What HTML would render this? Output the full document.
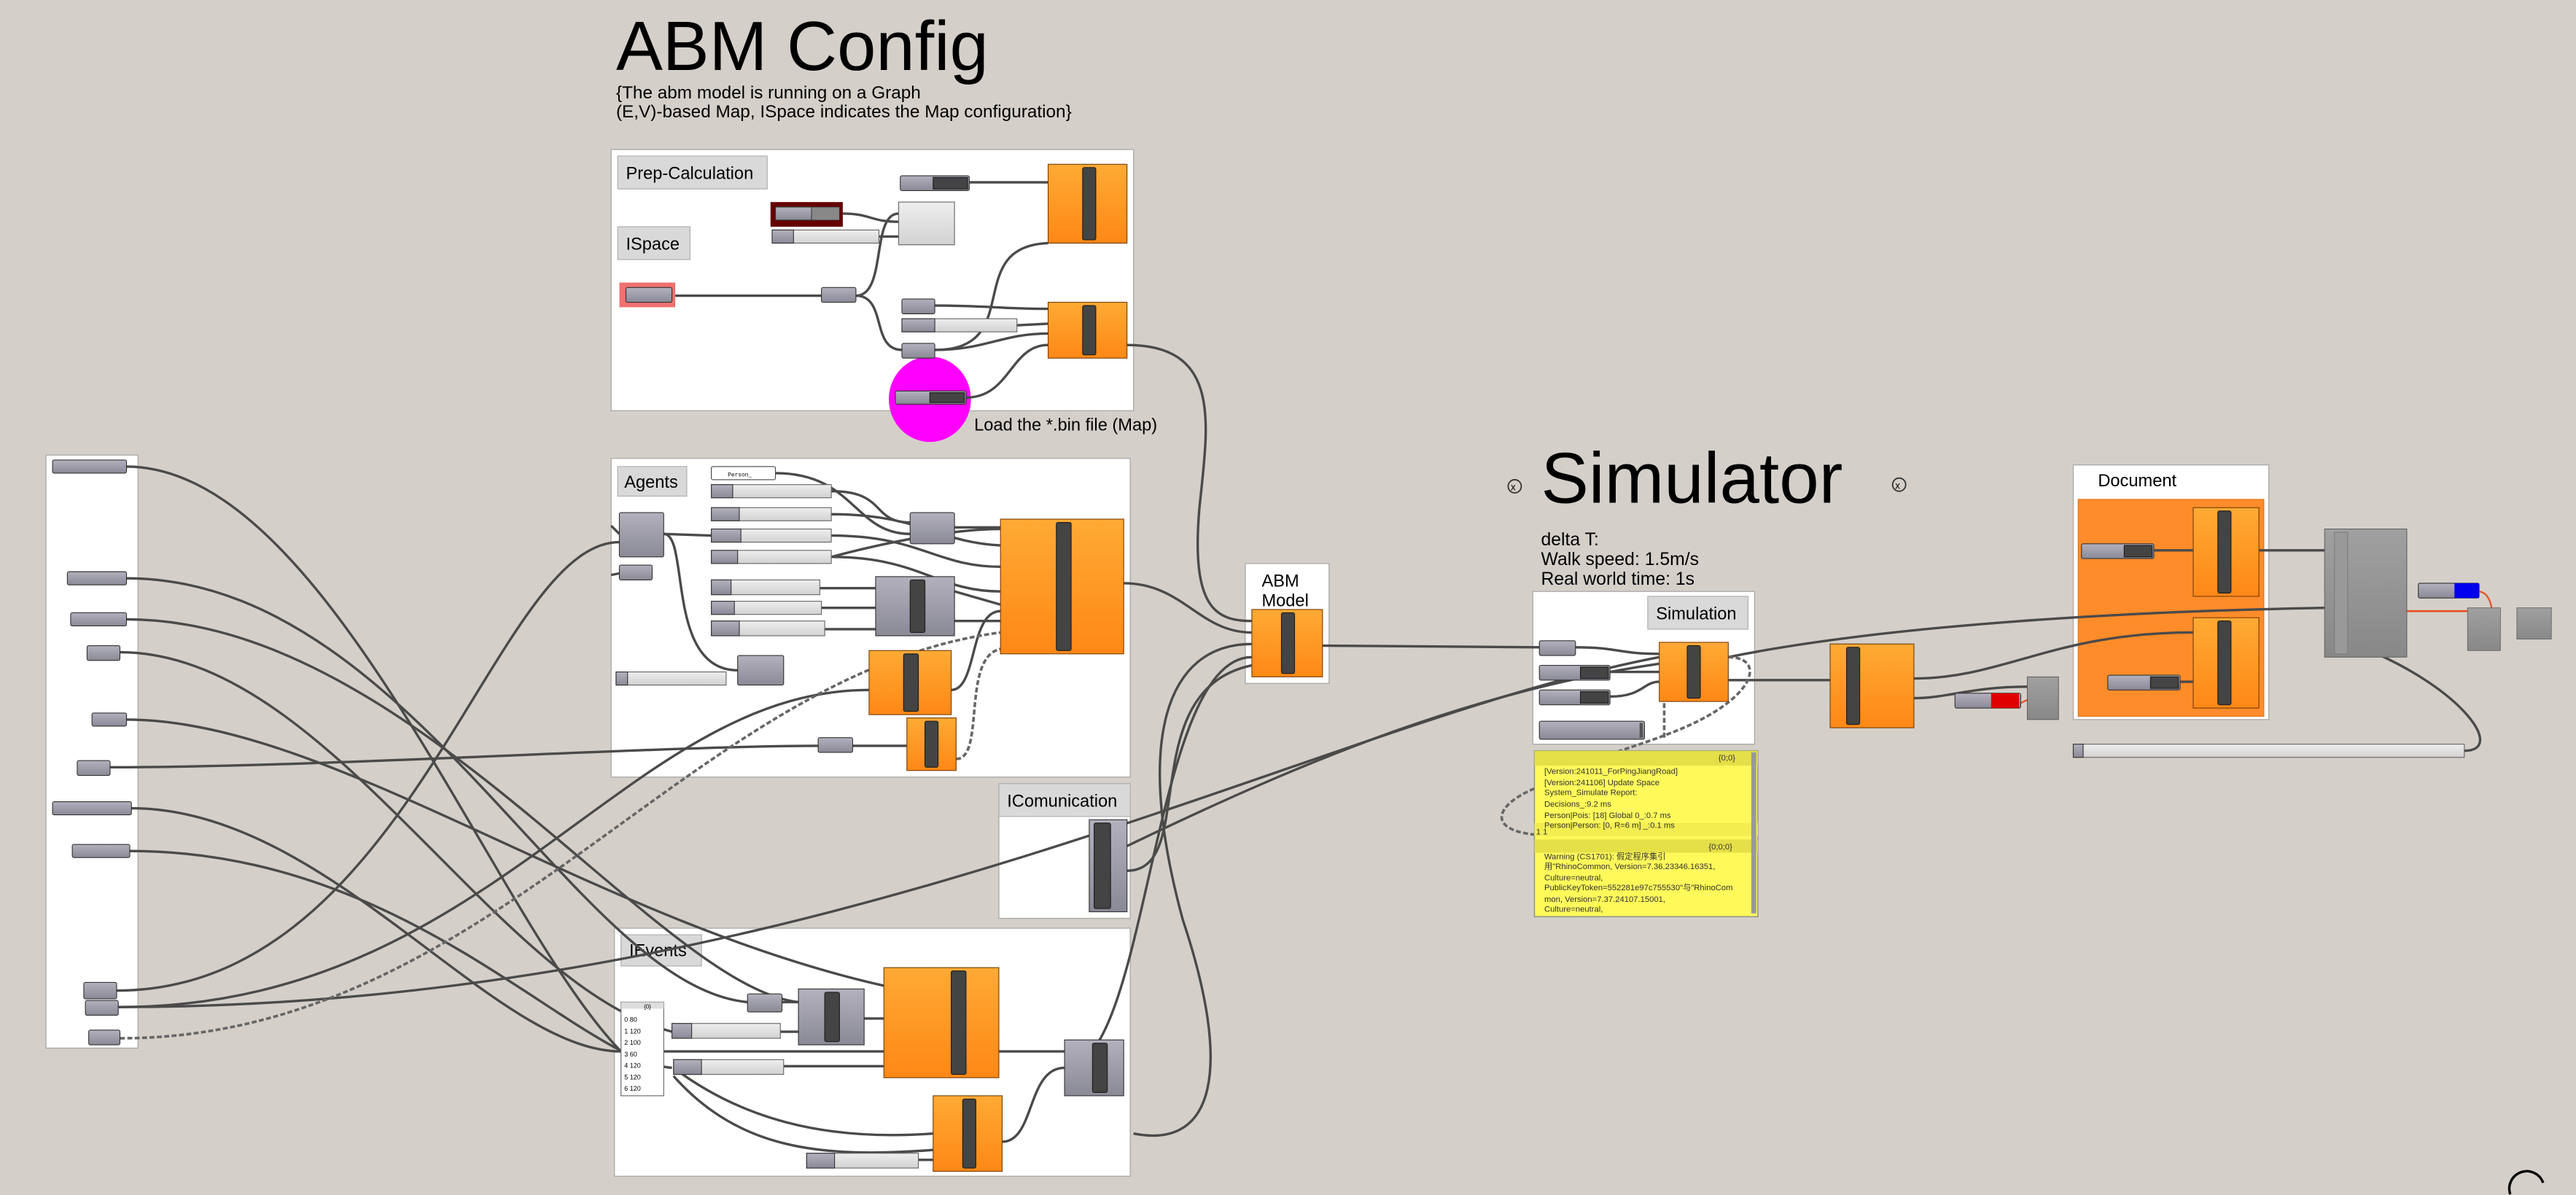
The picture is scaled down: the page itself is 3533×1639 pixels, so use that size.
<!DOCTYPE html>
<html><head><meta charset="utf-8"><style>
html,body{margin:0;padding:0;background:#d4d0c9;}
svg{display:block}
text{font-family:"Liberation Sans","Noto Sans CJK SC",sans-serif;}
.m{font-family:"Liberation Mono","Noto Sans CJK SC",monospace;}
.w{fill:none;stroke:#4a4a4a;stroke-width:1.5}
.d{fill:none;stroke:#666;stroke-width:1.6;stroke-dasharray:3 1.5}
.pn{fill:#fff;stroke:#aaa;stroke-width:0.6}
.lb{fill:#d9d9d9;stroke:#b5b5b5;stroke-width:0.6}
.g{fill:url(#gg);stroke:#333;stroke-width:0.5}
.o{fill:url(#og);stroke:#7a3e08;stroke-width:0.5}
.bar{fill:#444;stroke:#1c1c1c;stroke-width:0.5}
.lt{fill:url(#lg);stroke:#666;stroke-width:0.5}
</style></head><body>
<svg width="3533" height="1639" viewBox="0 0 1568 727.4" xmlns="http://www.w3.org/2000/svg">
<defs>
<linearGradient id="gg" x1="0" y1="0" x2="0" y2="1"><stop offset="0" stop-color="#b2b1bd"/><stop offset="1" stop-color="#8a8996"/></linearGradient>
<linearGradient id="og" x1="0" y1="0" x2="0" y2="1"><stop offset="0" stop-color="#ffaa35"/><stop offset="1" stop-color="#ff8816"/></linearGradient>
<linearGradient id="lg" x1="0" y1="0" x2="0" y2="1"><stop offset="0" stop-color="#eeeeee"/><stop offset="1" stop-color="#d2d2d2"/></linearGradient>
<linearGradient id="gr" x1="0" y1="0" x2="0" y2="1"><stop offset="0" stop-color="#a0a0a0"/><stop offset="1" stop-color="#888"/></linearGradient>
</defs>
<rect width="1568" height="727.4" fill="#d4d0c9"/>

<!-- titles -->
<text x="375" y="42.5" font-size="42.5">ABM Config</text>
<text x="375" y="60" font-size="10.8">{The abm model is running on a Graph</text>
<text x="375" y="71.5" font-size="10.8">(E,V)-based Map, ISpace indicates the Map configuration}</text>
<text x="938" y="306" font-size="43.5">Simulator</text>
<circle cx="922" cy="296" r="4" fill="none" stroke="#333" stroke-width="0.8"/><text x="919.6" y="298.5" font-size="6">x</text>
<circle cx="1156" cy="295" r="4" fill="none" stroke="#333" stroke-width="0.8"/><text x="1153.6" y="297.5" font-size="6">x</text>
<text x="938" y="332" font-size="11">delta T:</text>
<text x="938" y="344" font-size="11">Walk speed: 1.5m/s</text>
<text x="938" y="356" font-size="11">Real world time: 1s</text>

<!-- panels -->
<rect class="pn" x="372" y="91" width="318" height="159"/>
<rect class="lb" x="376" y="95" width="91" height="20"/><text x="381" y="109" font-size="10.5">Prep-Calculation</text>
<rect class="lb" x="376" y="138" width="44" height="20"/><text x="381" y="152" font-size="10.5">ISpace</text>
<rect class="pn" x="372" y="279" width="316" height="194"/>
<rect class="lb" x="376" y="284" width="42" height="18"/><text x="380" y="297" font-size="10.5">Agents</text>
<rect class="pn" x="758" y="343" width="51" height="73"/>
<text x="768" y="357" font-size="10.5">ABM</text><text x="768" y="369" font-size="10.5">Model</text>
<rect class="pn" x="608" y="477" width="80" height="82"/>
<rect class="lb" x="608" y="477" width="80" height="20"/><text x="613" y="491" font-size="10.5">IComunication</text>
<rect class="pn" x="374" y="565" width="314" height="151"/>
<rect class="lb" x="378" y="569" width="49" height="19"/><text x="383" y="582" font-size="10.5">IEvents</text>
<rect class="pn" x="28" y="277" width="56" height="361"/>
<rect class="pn" x="933" y="360" width="135" height="93"/>
<rect class="lb" x="1003" y="363" width="61" height="20"/><text x="1008" y="377" font-size="10.5">Simulation</text>
<rect class="pn" x="1262" y="283" width="119" height="155"/>
<text x="1277" y="296" font-size="10.5">Document</text>
<rect x="1265" y="304" width="113" height="132" fill="#ff8c2a" stroke="#e07010" stroke-width="0.5"/>

<!-- magenta -->
<ellipse cx="566" cy="243" rx="25" ry="26" fill="#ff00ff"/>
<text x="593" y="262" font-size="10.5">Load the *.bin file (Map)</text>

<!-- wires -->
<g class="w">
<path d="M411 180 L500 180"/>
<path d="M521 180 C540 180 530 130 547 130"/>
<path d="M521 180 C540 180 530 213 549 213"/>
<path d="M513 130 C530 130 530 135 547 135"/>
<path d="M535 144 L547 144"/>
<path d="M590 111 L638 111"/>
<path d="M569 186 C600 186 610 188 638 188"/>
<path d="M619 198 L638 197"/>
<path d="M569 213 C600 213 610 203 638 203"/>
<path d="M569 213 C625 213 585 150 638 148"/>
<path d="M588 242 C615 242 615 210 638 210"/>
<path d="M686 210 C745 210 735 260 730 310 C725 370 740 378 762 378"/>
<path d="M472 288 C520 288 520 325 554 325"/>
<path d="M506 299 C540 299 530 318 554 318"/>
<path d="M506 313 C560 313 570 330 609 332"/>
<path d="M506 326 C560 326 570 345 609 345"/>
<path d="M506 339 C560 339 570 360 609 360"/>
<path d="M506 339 C540 330 580 322 609 322"/>
<path d="M404 325 L433 326"/>
<path d="M404 325 C420 325 405 408 449 408"/>
<path d="M581 321 L609 321"/>
<path d="M581 360 L609 368"/>
<path d="M581 378 L609 378"/>
<path d="M499 358 L533 358"/>
<path d="M500 370 L533 370"/>
<path d="M502 383 L533 383"/>
<path d="M579 420 C595 420 590 372 609 372"/>
<path d="M519 454 L552 454"/>
<path d="M684 355 C720 355 730 385 762 385"/>
<path d="M372 320 L377 325"/>
<path d="M372 350 L377 349"/>
<path d="M77 284 C200 284 300 560 378 640"/>
<path d="M77 352 C250 352 350 600 455 610"/>
<path d="M77 377 C250 377 400 600 486 610"/>
<path d="M73 397 C200 397 300 600 409 628"/>
<path d="M71 603 C250 603 300 330 377 330"/>
<path d="M72 613 C300 613 380 420 529 420"/>
<path d="M72 613 C500 613 800 440 1010 400"/>
<path d="M80 492 C200 492 300 640 378 640"/>
<path d="M67 467 C200 467 400 454 498 454"/>
<path d="M79 518 C250 518 350 645 409 650"/>
<path d="M77 438 C200 438 360 560 538 600"/>
<path d="M686 515 C800 460 900 420 1010 404"/>
<path d="M686 530 C730 530 690 420 762 405"/>
<path d="M648 650 C700 650 700 400 762 400"/>
<path d="M762 392 C710 392 690 450 720 560 C750 650 740 700 690 690"/>
<path d="M404 640 L538 640"/>
<path d="M475 628 L486 628"/>
<path d="M476 610 L486 610"/>
<path d="M526 620 L538 620"/>
<path d="M477 649 L538 649"/>
<path d="M608 640 L648 640"/>
<path d="M410 650 C450 680 500 695 568 690"/>
<path d="M410 655 C450 700 500 705 568 700"/>
<path d="M559 706 L568 706"/>
<path d="M610 695 C630 695 625 650 648 650"/>
<path d="M805 393 L937 394"/>
<path d="M959 394 C985 394 985 398 1010 398"/>
<path d="M980 409 L1010 409"/>
<path d="M980 424 C1000 424 1000 415 1010 415"/>
<path d="M1052 400 C1150 380 1300 372 1415 370"/>
<path d="M1052 414 L1114 414"/>
<path d="M1165 413 C1220 413 1250 385 1335 385"/>
<path d="M1165 425 C1185 425 1200 418 1234 418"/>
<path d="M1311 335 L1335 335"/>
<path d="M1375 335 L1415 335"/>
<path d="M1327 415 L1335 415"/>
<path d="M1500 457 C1525 457 1500 420 1440 395 C1420 390 1410 385 1420 380"/>
</g>
<g class="d">
<path d="M73 632 C300 632 420 410 609 385"/>
<path d="M582 462 C600 462 585 400 609 395"/>
<path d="M1052 400 C1075 400 1070 425 1020 445 C995 455 960 465 945 470"/>
<path d="M1013 428 L1013 450"/>
<path d="M934 480 C910 490 905 505 934 508"/>
</g>
<path d="M1465 372 L1502 372" fill="none" stroke="#e85020" stroke-width="1.2"/>
<path d="M1509 360 C1522 362 1518 395 1502 390" fill="none" stroke="#e85020" stroke-width="1"/>
<path d="M1230 428 L1234 426" fill="none" stroke="#e85020" stroke-width="1"/>

<!-- prep components -->
<rect x="377" y="172" width="34" height="15" fill="#f07070"/>
<rect class="g" x="381" y="175" width="28" height="9" rx="1"/>
<rect class="g" x="500" y="175" width="21" height="9" rx="1"/>
<rect x="469" y="123" width="44" height="15" fill="#650000"/>
<rect class="g" x="472" y="126" width="22" height="8"/><rect x="494" y="126" width="17" height="8" fill="#888" stroke="#333" stroke-width="0.4"/>
<rect class="lt" x="470" y="140" width="65" height="8"/><rect class="g" x="470" y="140" width="13" height="8"/>
<rect class="lt" x="547" y="123" width="34" height="26"/>
<rect class="g" x="548" y="107" width="42" height="9" rx="1"/><rect class="bar" x="568" y="108" width="21" height="7"/>
<rect class="o" x="638" y="100" width="48" height="48"/><rect class="bar" x="659" y="102" width="8" height="44" rx="1"/>
<rect class="g" x="549" y="182" width="20" height="9" rx="1"/>
<rect class="lt" x="549" y="194" width="70" height="8"/><rect class="g" x="549" y="194" width="20" height="8"/>
<rect class="g" x="549" y="209" width="20" height="9" rx="1"/>
<rect class="o" x="638" y="184" width="48" height="34"/><rect class="bar" x="659" y="186" width="8" height="30" rx="1"/>
<rect class="g" x="545" y="238" width="43" height="8" rx="1"/><rect class="bar" x="566" y="239" width="21" height="6"/>

<!-- agents components -->
<rect x="433" y="284" width="39" height="8" fill="#fff" stroke="#444" stroke-width="0.5" rx="1"/><text x="443" y="290" font-size="3.5" class="m">Person_</text>
<g>
<rect class="lt" x="433" y="295" width="73" height="8"/><rect class="g" x="433" y="295" width="13" height="8"/>
<rect class="lt" x="433" y="309" width="73" height="8"/><rect class="g" x="433" y="309" width="17" height="8"/>
<rect class="lt" x="433" y="322" width="73" height="8"/><rect class="g" x="433" y="322" width="18" height="8"/>
<rect class="lt" x="433" y="335" width="73" height="8"/><rect class="g" x="433" y="335" width="16" height="8"/>
<rect class="lt" x="433" y="353" width="66" height="9"/><rect class="g" x="433" y="353" width="12" height="9"/>
<rect class="lt" x="433" y="366" width="67" height="8"/><rect class="g" x="433" y="366" width="14" height="8"/>
<rect class="lt" x="433" y="378" width="69" height="9"/><rect class="g" x="433" y="378" width="17" height="9"/>
<rect class="lt" x="375" y="409" width="67" height="8"/><rect class="g" x="375" y="409" width="7" height="8"/>
</g>
<rect class="g" x="377" y="312" width="27" height="27" rx="1"/>
<rect class="g" x="377" y="344" width="20" height="9" rx="1"/>
<rect class="g" x="554" y="312" width="27" height="19" rx="1"/>
<rect class="g" x="533" y="351" width="48" height="36"/><rect class="bar" x="554" y="353" width="9" height="32" rx="1"/>
<rect class="o" x="609" y="316" width="75" height="82"/><rect class="bar" x="643" y="318" width="9" height="78" rx="1"/>
<rect class="o" x="529" y="396" width="50" height="39"/><rect class="bar" x="550" y="398" width="9" height="35" rx="1"/>
<rect class="g" x="449" y="399" width="28" height="18" rx="1"/>
<rect class="g" x="498" y="449" width="21" height="9" rx="1"/>
<rect class="o" x="552" y="437" width="30" height="32"/><rect class="bar" x="563" y="439" width="8" height="28" rx="1"/>

<!-- ABM model -->
<rect class="o" x="762" y="371" width="43" height="41"/><rect class="bar" x="780" y="373" width="8" height="37" rx="1"/>
<!-- icomm -->
<rect class="g" x="663" y="499" width="23" height="56"/><rect class="bar" x="666" y="501" width="10" height="52" rx="1"/>

<!-- events -->
<rect x="378" y="610" width="26" height="57" fill="#fff" stroke="#666" stroke-width="0.5"/>
<rect x="378" y="610" width="26" height="4" fill="#ddd"/>
<text x="392" y="614" font-size="3.5">{0}</text>
<g font-size="4"><text x="380" y="622">0 80</text><text x="380" y="629">1 120</text><text x="380" y="636">2 100</text><text x="380" y="643">3 60</text><text x="380" y="650">4 120</text><text x="380" y="657">5 120</text><text x="380" y="664">6 120</text></g>
<rect class="g" x="455" y="605" width="21" height="11" rx="1"/>
<rect class="g" x="486" y="602" width="40" height="34"/><rect class="bar" x="502" y="604" width="9" height="30" rx="1"/>
<rect class="o" x="538" y="589" width="70" height="67"/><rect class="bar" x="579" y="591" width="9" height="63" rx="1"/>
<rect class="lt" x="409" y="623" width="66" height="9"/><rect class="g" x="409" y="623" width="12" height="9"/>
<rect class="lt" x="410" y="645" width="67" height="9"/><rect class="g" x="410" y="645" width="17" height="9"/>
<rect class="g" x="648" y="633" width="36" height="34"/><rect class="bar" x="665" y="635" width="9" height="30" rx="1"/>
<rect class="o" x="568" y="667" width="42" height="46"/><rect class="bar" x="586" y="669" width="8" height="42" rx="1"/>
<rect class="lt" x="491" y="702" width="68" height="9"/><rect class="g" x="491" y="702" width="17" height="9"/>

<!-- left nodes -->
<g>
<rect class="g" x="32" y="280" width="45" height="8" rx="1"/>
<rect class="g" x="41" y="348" width="36" height="8" rx="1"/>
<rect class="g" x="43" y="373" width="34" height="8" rx="1"/>
<rect class="g" x="53" y="393" width="20" height="9" rx="1"/>
<rect class="g" x="56" y="434" width="21" height="8" rx="1"/>
<rect class="g" x="47" y="463" width="20" height="9" rx="1"/>
<rect class="g" x="32" y="488" width="48" height="8" rx="1"/>
<rect class="g" x="44" y="514" width="35" height="8" rx="1"/>
<rect class="g" x="51" y="598" width="20" height="10" rx="1"/>
<rect class="g" x="52" y="609" width="20" height="9" rx="1"/>
<rect class="g" x="54" y="627" width="19" height="9" rx="1"/>
</g>

<!-- simulation -->
<rect class="g" x="937" y="390" width="22" height="9" rx="1"/>
<rect class="g" x="937" y="405" width="43" height="9" rx="1"/><rect class="bar" x="962" y="406" width="17" height="7"/>
<rect class="g" x="937" y="420" width="43" height="9" rx="1"/><rect class="bar" x="962" y="421" width="17" height="7"/>
<rect class="g" x="937" y="439" width="64" height="11" rx="1"/><rect x="998" y="440" width="2" height="9" fill="#555"/>
<rect class="o" x="1010" y="391" width="42" height="36"/><rect class="bar" x="1027" y="393" width="8" height="32" rx="1"/>
<rect class="o" x="1114" y="392" width="51" height="51"/><rect class="bar" x="1124" y="394" width="8" height="47" rx="1"/>
<rect class="g" x="1190" y="422" width="40" height="9" rx="1"/><rect x="1212" y="422" width="17" height="9" fill="#e00000"/>
<rect x="1234" y="412" width="19" height="26" fill="url(#gr)" stroke="#555" stroke-width="0.4"/>

<!-- yellow panel -->
<rect x="934" y="457" width="136" height="101" fill="#fff95a" stroke="#888" stroke-width="0.6"/>
<rect x="934" y="457" width="136" height="9" fill="#e5df48"/>
<rect x="934" y="511" width="136" height="8" fill="#e5df48"/>
<rect x="934" y="501" width="136" height="8" fill="#f3ed50"/>
<rect x="1066" y="458" width="3" height="98" fill="#999"/>
<g class="m" font-size="5" fill="#333">
<text x="1046" y="463">{0;0}</text>
<text x="940" y="471">[Version:241011_ForPingJiangRoad]</text>
<text x="940" y="478">[Version:241106] Update Space</text>
<text x="940" y="484">System_Simulate Report:</text>
<text x="940" y="491">Decisions_:9.2 ms</text>
<text x="940" y="498">Person|Pois: [18] Global 0_:0.7 ms</text>
<text x="940" y="504">Person|Person: [0, R=6 m] _:0.1 ms</text>
<text x="935" y="508">1 1</text>
<text x="1040" y="517">{0;0;0}</text>
<text x="940" y="523">Warning (CS1701): 假定程序集引</text>
<text x="940" y="529">用"RhinoCommon, Version=7.36.23346.16351,</text>
<text x="940" y="536">Culture=neutral,</text>
<text x="940" y="542">PublicKeyToken=552281e97c755530"与"RhinoCom</text>
<text x="940" y="549">mon, Version=7.37.24107.15001,</text>
<text x="940" y="555">Culture=neutral,</text>
</g>

<!-- document -->
<rect class="g" x="1267" y="331" width="44" height="9" rx="1"/><rect class="bar" x="1293" y="332" width="17" height="7"/>
<rect class="o" x="1335" y="309" width="40" height="54"/><rect class="bar" x="1350" y="311" width="8" height="50" rx="1"/>
<rect class="o" x="1335" y="376" width="40" height="55"/><rect class="bar" x="1350" y="378" width="8" height="51" rx="1"/>
<rect class="g" x="1283" y="411" width="44" height="9" rx="1"/><rect class="bar" x="1309" y="412" width="17" height="7"/>
<rect x="1415" y="322" width="50" height="78" fill="url(#gr)" stroke="#666" stroke-width="0.5"/>
<rect x="1421" y="324" width="8" height="74" fill="#999" stroke="#777" stroke-width="0.4"/>
<rect class="g" x="1472" y="355" width="37" height="9" rx="1"/><rect x="1494" y="355" width="15" height="9" fill="#0000ee"/>
<rect x="1502" y="370" width="20" height="26" fill="url(#gr)" stroke="#666" stroke-width="0.4"/>
<rect x="1532" y="370" width="21" height="19" fill="url(#gr)" stroke="#666" stroke-width="0.4"/>
<rect class="lt" x="1262" y="453" width="238" height="8"/><rect class="g" x="1262" y="453" width="6" height="8"/>
<path d="M1528 727 A10 10 0 0 1 1548 720" fill="none" stroke="#000" stroke-width="1.5"/>
</svg>
</body></html>
